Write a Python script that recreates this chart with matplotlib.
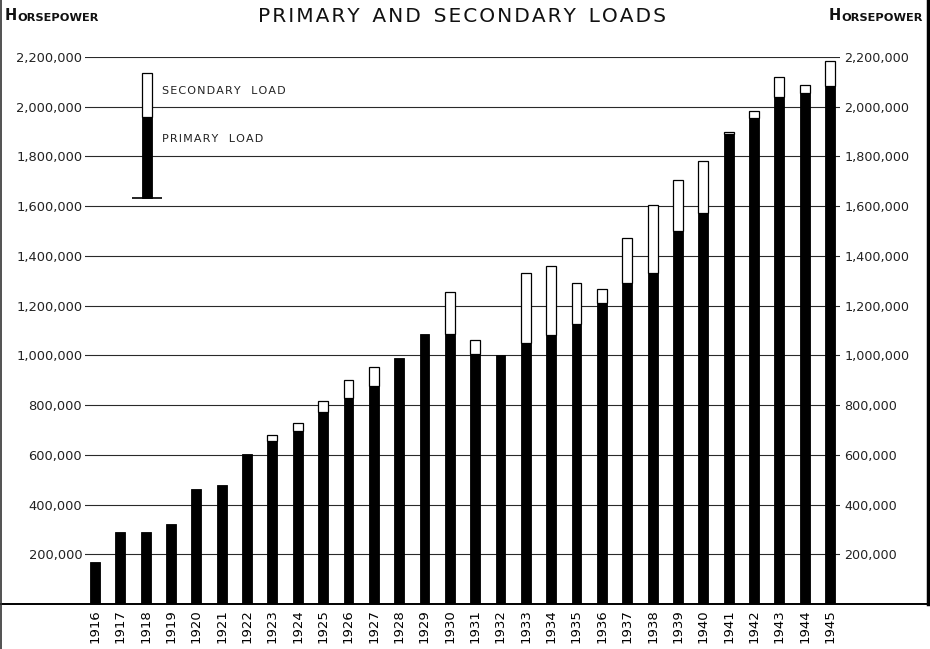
import numpy as np
import matplotlib
matplotlib.use("Agg")
import matplotlib.pyplot as plt
from matplotlib.lines import Line2D

# Horsepower loads by year
years = [str(y) for y in range(1916, 1946)]
primary = [170000, 288000, 288000, 321000, 463000, 479000, 602000, 655000,
           695000, 772000, 827000, 876000, 990000, 1086000, 1086000, 1007000,
           1001000, 1050000, 1082000, 1127000, 1212000, 1290000, 1331000,
           1501000, 1571000, 1890000, 1954000, 2038000, 2054000, 2085000]
secondary = [0, 0, 0, 0, 0, 0, 0, 23000, 32000, 44000, 73000, 76000, 0, 0,
             168000, 54000, 0, 281000, 278000, 163000, 56000, 182000, 275000,
             205000, 210000, 10000, 30000, 80000, 35000, 97000]
yticks = list(range(200000, 2200001, 200000))
ytick_labels = ["{:,}".format(v) for v in yticks]

W, H = 930, 649
HAIR = "\u200a"


def spaced(s):
    # poor man's letter spacing
    return HAIR.join(s)


fig = plt.figure(figsize=(W / 100, H / 100), dpi=100)
fig.patch.set_facecolor("white")

# axes frame in pixels: x 85..840, baseline at 604, 2.2M line at 57
ax = fig.add_axes([85 / W, 1 - 604 / H, 755 / W, 547 / H])
ax.set_facecolor("none")

x = np.arange(len(years))
prim = np.array(primary)
sec = np.array(secondary)
bw = 0.39

# gridlines
for v in yticks:
    ax.axhline(v, color="#2a2a2a", lw=0.8, zorder=1)

ax.bar(x, prim, width=bw, color="black", edgecolor="black", lw=0.6, zorder=3)
mask = sec > 0
ax.bar(x[mask], sec[mask], bottom=prim[mask], width=bw, color="white",
       edgecolor="black", lw=0.9, zorder=3)

ax.set_xlim(-0.395, len(years) - 1 + 0.395)
ax.set_ylim(0, 2200000)
ax.set_xticks(x)
ax.set_xticklabels(years, rotation=90, fontsize=9.5, va="top", ha="center")
ax.set_yticks(yticks)
ax.set_yticklabels(ytick_labels, fontsize=9.4, color="#222222")
ax.tick_params(axis="both", length=0)
ax.tick_params(axis="x", pad=4)
ax.tick_params(axis="y", pad=2)
for s in ax.spines.values():
    s.set_visible(False)

ax2 = ax.twinx()
ax2.set_ylim(ax.get_ylim())
ax2.set_yticks(yticks)
ax2.set_yticklabels(ytick_labels, fontsize=9.2, color="#222222")
ax2.tick_params(axis="y", length=0, pad=3)
for s in ax2.spines.values():
    s.set_visible(False)

# legend key drawn as a small stacked bar
LEG_X = 2.05
LEG_BOTTOM, LEG_SPLIT, LEG_TOP = 1634000, 1957000, 2137000
ax.bar([LEG_X], [LEG_SPLIT - LEG_BOTTOM], bottom=LEG_BOTTOM, width=bw,
       color="black", edgecolor="black", lw=0.6, zorder=4)
ax.bar([LEG_X], [LEG_TOP - LEG_SPLIT], bottom=LEG_SPLIT, width=bw,
       color="white", edgecolor="black", lw=0.9, zorder=4)
ax.plot([LEG_X - 0.6, LEG_X + 0.6], [LEG_BOTTOM, LEG_BOTTOM], color="black",
        lw=1.2, zorder=4, solid_capstyle="butt")
ax.text(LEG_X + 0.6, 2065000, spaced("SECONDARY") + "   " + spaced("LOAD"),
        fontsize=8, va="center", ha="left", color="#222222", zorder=5)
ax.text(LEG_X + 0.6, 1870000, spaced("PRIMARY") + "   " + spaced("LOAD"),
        fontsize=8, va="center", ha="left", color="#222222", zorder=5)

# title and small-caps axis captions
title = "  ".join(spaced(w) for w in ["PRIMARY", "AND", "SECONDARY", "LOADS"])
fig.text(0.497, 1 - 17 / H, title, fontsize=14.5,
         ha="center", va="center", color="#111111")


def small_caps(xpos, ypos, ha):
    big = fig.text(xpos, ypos, "H", fontsize=10.5, ha="left", va="bottom",
                   color="#111111", fontweight="semibold")
    fig.canvas.draw()
    bb = big.get_window_extent()
    rest = fig.text(0, 0, "ORSEPOWER", fontsize=8.2, ha="left", va="bottom",
                    color="#111111", fontweight="semibold")
    rb = rest.get_window_extent()
    total = bb.width + rb.width
    if ha == "right":
        x0 = xpos * W - total
    else:
        x0 = xpos * W
    big.set_x(x0 / W)
    rest.set_position(((x0 + bb.width + 0.5) / W, ypos))


small_caps(5 / W, 1 - 23 / H, "left")
small_caps(922 / W, 1 - 23 / H, "right")

# baseline and page edges
fig.add_artist(Line2D([0, 1], [1 - 604 / H, 1 - 604 / H], color="black",
                      lw=1.4, transform=fig.transFigure))
fig.add_artist(Line2D([1 / W, 1 / W], [0, 1], color="#333333", lw=1.2,
                      transform=fig.transFigure))
fig.add_artist(Line2D([927.5 / W, 927.5 / W], [1 - 604 / H, 1], color="black",
                      lw=2.5, transform=fig.transFigure))

fig.savefig("out.png", dpi=100, facecolor="white")
